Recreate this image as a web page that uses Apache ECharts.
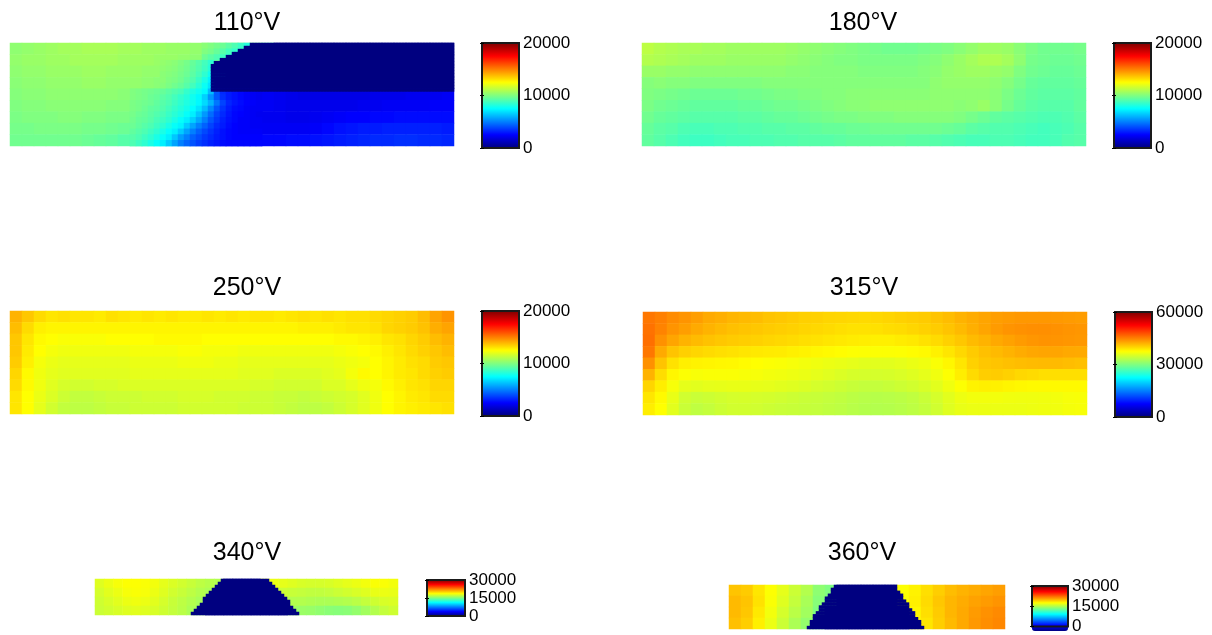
<!DOCTYPE html>
<html>
<head>
<meta charset="utf-8">
<script src="https://cdn.jsdelivr.net/npm/echarts@6/dist/echarts.min.js"></script>
<style>html,body{margin:0;padding:0;background:#fff}#c{width:1212px;height:635px}</style>
</head>
<body>
<div id="c"></div>
<script>
// All field values are in units of 100 (as read against each colour bar).
const titles = ['110°V', '180°V', '250°V', '315°V', '340°V', '360°V'];
const colorMax = [20000, 20000, 20000, 60000, 30000, 30000];
const tickStep = [10000, 10000, 10000, 30000, 15000, 15000];

const field110 = [
[103,104,105,106,107,107,108,108,108,107,107,106,106,105,105,104,103,102,101,99,96,92,0,0,0,0,0,0,0,0,0,0,0,0,0,0,0],
[104,105,105,106,106,107,107,107,107,106,106,106,105,105,104,103,102,100,97,93,0,0,0,0,0,0,0,0,0,0,0,0,0,0,0,0,0],
[103,104,104,105,105,105,106,106,105,105,105,104,104,103,102,100,94,80,0,0,0,0,0,0,0,0,0,0,0,0,0,0,0,0,0,0,0],
[102,103,103,104,104,104,105,105,104,104,104,103,102,100,98,94,84,0,0,0,0,0,0,0,0,0,0,0,0,0,0,0,0,0,0,0,0],
[101,102,102,103,103,103,103,103,103,102,102,101,99,96,92,78,62,37,30,26,24,23,22,21,20,20,20,20,20,20,21,21,21,22,22,22,23],
[100,101,101,102,102,102,102,102,101,101,100,98,95,90,82,70,52,38,30,26,24,23,22,21,21,21,21,21,21,22,22,23,23,23,23,24,24],
[99,100,100,100,101,101,100,100,99,99,97,95,91,85,74,60,44,34,28,25,23,22,22,21,21,22,23,24,25,25,26,26,27,27,27,27,27],
[98,98,99,99,99,99,98,98,97,96,94,91,87,78,64,50,38,30,26,24,23,23,23,23,23,24,26,28,29,30,30,31,31,31,31,31,30],
[97,97,97,97,97,97,96,95,94,92,90,86,79,68,54,42,32,27,25,25,25,26,26,27,27,28,29,30,31,32,33,33,34,34,33,33,32]
];
// Finer readings of the steep transition in the 110 panel: first column per row, then values.
const detailStart110 = [32,32,32,25,25,25,25,25,20,20,20,20,20,20,20,20,20,20];
const detail110 = [
[102,100,98,96,93,90,86,82],
[100,98,95,92,88,85],
[96,93,90,87,84],
[104,103,102,100,98,95,92,88,84],
[103,102,101,99,97,94,91,87,82],
[102,101,100,98,96,93,89,84,78],
[102,100,99,97,94,91,86,80,73],
[101,99,97,95,92,88,83,77,70],
[100,99,98,97,96,95,93,91,89,85,81,78,74,62,42,33,30,28,26,24,23,22],
[100,99,98,96,95,93,91,88,85,82,78,74,66,54,42,34,30,28,26,24,23,22],
[99,98,97,96,94,92,90,87,84,81,78,74,68,60,48,38,32,29,27,25,24,23],
[99,98,96,94,93,91,88,85,82,79,75,70,62,52,42,35,30,27,26,24,23,23],
[98,96,95,93,91,89,86,83,80,76,72,64,55,46,38,33,29,26,25,24,23,22],
[97,95,94,92,89,87,84,80,76,72,66,58,50,42,36,31,28,26,24,24,23,23],
[96,94,92,90,87,84,80,76,73,65,57,50,44,38,33,30,27,25,24,24,23,23],
[94,92,90,87,84,80,76,72,65,57,50,44,39,35,31,28,26,25,24,24,24,24],
[92,90,87,84,80,76,72,64,56,50,44,40,36,33,30,28,26,25,25,25,25,25],
[90,87,84,80,76,72,65,57,50,45,41,37,34,31,29,27,26,26,26,26,26,26]
];
const field180 = [
[112,110,109,108,108,107,107,106,106,106,106,106,105,104,103,102,101,100,99,98,97,97,97,98,99,100,102,104,106,106,105,102,99,97,97,97,98],
[110,109,108,107,106,106,106,105,105,105,105,105,104,103,102,101,100,100,99,99,99,99,99,100,101,103,105,107,109,109,107,103,98,97,96,96,97],
[105,105,104,104,103,103,103,103,103,103,103,103,102,102,101,101,101,101,100,100,100,100,100,101,102,104,105,106,106,105,104,100,97,96,95,95,96],
[101,102,101,101,100,100,100,100,100,100,101,101,101,101,101,101,101,101,101,101,101,101,101,101,103,104,104,104,104,103,101,98,95,94,94,94,95],
[100,99,98,97,96,96,96,96,97,97,98,99,99,100,100,101,101,102,102,102,102,102,102,102,103,103,103,103,103,102,99,96,94,93,93,93,94],
[99,97,96,95,94,94,94,94,95,95,96,97,97,98,99,100,101,102,102,103,103,103,103,103,103,103,102,103,105,102,98,95,93,92,92,92,94],
[97,95,94,93,92,92,92,92,93,93,94,95,95,96,97,98,99,99,100,100,100,101,101,101,101,101,100,98,96,94,93,92,91,90,90,91,93],
[95,93,92,90,89,89,90,90,91,91,92,92,93,93,94,95,95,96,96,97,97,97,97,97,97,96,95,93,92,91,91,90,89,88,89,90,92],
[94,92,90,88,87,87,88,89,89,90,90,91,91,92,92,92,93,94,94,94,94,94,93,93,92,91,90,89,89,90,90,89,88,88,89,91,92]
];
const field250 = [
[140,136,132,130,131,130,130,129,131,130,129,130,129,130,129,129,130,129,130,129,130,130,129,130,131,130,131,130,131,131,132,133,134,135,138,143,146],
[138,132,128,127,127,127,127,127,127,127,127,127,127,127,127,127,127,127,127,127,127,127,127,127,128,128,128,129,130,130,131,133,134,135,137,141,143],
[136,130,126,125,124,124,124,124,125,125,125,125,126,126,126,126,125,125,125,125,125,125,125,125,125,125,125,126,126,127,128,130,131,133,135,138,140],
[136,129,125,123,122,122,122,122,122,122,123,123,123,123,124,124,123,123,123,122,122,122,122,122,122,122,122,123,124,125,126,128,130,132,134,136,138],
[135,128,123,121,120,120,120,120,120,120,121,121,121,121,122,122,122,121,121,120,120,120,120,120,120,120,120,121,122,123,125,127,129,131,132,135,136],
[133,126,122,120,119,119,119,119,119,119,120,120,120,120,120,120,120,120,120,119,119,119,118,118,118,118,119,120,123,126,125,127,129,130,132,134,135],
[132,126,122,119,117,116,116,117,117,118,118,118,118,118,118,118,118,118,118,118,117,117,116,116,116,116,118,118,120,122,123,126,128,130,131,133,133],
[130,125,121,118,115,113,113,114,115,115,115,116,116,116,117,117,117,116,116,116,115,115,114,114,113,114,115,116,117,119,122,125,127,129,130,132,132],
[130,125,120,116,113,112,112,113,114,114,115,115,115,115,116,116,116,116,116,115,115,115,114,113,112,112,113,115,117,119,122,125,127,128,129,130,131]
];
const field315 = [
[455,450,443,438,432,425,422,418,416,414,410,408,406,403,402,400,399,398,397,398,400,402,404,406,410,414,420,424,428,432,434,436,436,436,435,434,433],
[458,448,438,432,425,420,416,412,410,408,406,404,402,400,398,396,394,392,392,393,395,396,399,402,405,410,416,422,428,434,438,440,441,441,440,438,437],
[460,440,428,420,415,411,408,406,404,402,400,398,396,394,392,390,388,386,385,384,384,386,388,392,396,402,408,415,420,426,430,434,437,439,438,437,436],
[455,425,410,403,399,396,394,392,390,388,387,386,384,382,380,378,376,374,373,373,373,374,376,378,383,390,398,406,412,416,420,424,427,428,428,426,425],
[440,410,392,384,382,381,380,379,377,375,373,372,370,368,366,364,362,360,358,358,358,360,363,366,372,380,390,402,408,410,412,414,415,416,416,414,412],
[420,395,380,373,371,372,372,372,371,370,368,367,365,363,360,357,354,351,350,350,351,353,356,360,366,374,385,396,404,405,402,398,396,394,394,394,394],
[400,385,370,360,358,360,361,362,362,361,360,358,356,354,350,348,345,342,340,340,342,345,348,352,358,366,374,382,384,383,381,379,378,378,378,378,378],
[390,378,362,347,343,345,348,350,351,350,349,347,345,343,342,340,338,335,333,332,333,335,338,343,350,358,365,368,368,368,367,366,366,367,368,370,371],
[385,375,358,343,337,340,345,348,348,347,345,343,342,341,340,338,336,333,331,330,331,333,336,340,347,356,362,364,364,364,364,364,365,366,367,369,370]
];
const field340 = [
[178,182,185,187,187,186,184,180,177,174,171,168,166,165,0,0,0,0,180,182,180,178,176,175,175,176,178,180,182,184,186,186,184],
[175,179,182,185,186,185,182,178,174,171,168,165,163,162,0,0,0,0,0,172,172,171,170,169,169,170,172,174,176,178,181,182,181],
[173,176,179,182,183,182,179,175,171,168,165,162,162,0,0,0,0,0,0,0,165,165,165,164,163,163,164,165,167,170,173,176,177],
[172,174,176,178,179,178,176,173,170,167,163,160,0,0,0,0,0,0,0,0,0,160,158,157,155,153,152,153,156,160,165,170,173]
];
const field360 = [
[205,203,195,187,180,172,165,154,150,0,0,0,0,0,187,191,197,202,207,210,212,214,216],
[208,205,196,186,178,170,162,152,150,0,0,0,0,0,186,192,198,204,209,212,215,217,219],
[208,204,194,184,175,167,160,150,0,0,0,0,0,0,0,190,197,203,209,213,217,220,222],
[206,202,192,182,172,163,156,150,0,0,0,0,0,0,0,190,195,202,208,213,218,221,223]
];
const fields = [field110, field180, field250, field315, field340, field360];

// Zero-value (shadowed) region, one [first, last+1] column span per fine row.
const zeroStart110 = [80,78,76,74,72,70,68,67,67,67,67,67,67,67,67,67];
const zeroEnd110   = [148,148,148,148,148,148,148,148,148,148,148,148,148,148,148,148];
const zeroStart340 = [42,41,40,39,38,37,36,36,35,34,33,32];
const zeroEnd340   = [58,59,60,61,62,63,64,65,65,66,67,68];
const zeroStart360 = [35,34,34,33,32,32,31,30,30,29,28,28,27,27,26];
const zeroEnd360   = [56,56,57,58,58,59,60,60,61,62,62,63,64,64,65];

const jet = ['#000080','#0000ff','#0080ff','#00ffff','#80ff80','#ffff00','#ff8000','#ff0000','#800000'];

// layout: [left, top, width, height] of field, then colour bar
const fieldBox = [[10,43,444,103],[642,43,444,103],[10,311,444,103],[643,312,444,103],[95,579,303,36],[729,585,276,44]];
const barBox   = [[482,43,37,105],[1114,43,37,105],[482,311,37,105],[1115,312,37,105],[427,580,38,36],[1032,586,36,45]];
const titleX   = [247,863,247,864,247,862];
const titleY   = [11,11,276,276,541,541];
const zeroGrids = [
  {panel:0, cols:148, rows:34, start:zeroStart110, end:zeroEnd110},
  {panel:4, cols:101, rows:12, start:zeroStart340, end:zeroEnd340},
  {panel:5, cols:92,  rows:15, start:zeroStart360, end:zeroEnd360}
];

const idx = n => Array.from({length:n}, (_, i) => i);
const hiddenCat = n => ({type:'category', data:idx(n), show:false});
const font = 'Liberation Sans, Arial, sans-serif';

const grid = [], xAxis = [], yAxis = [], series = [], visualMap = [], title = [];
const seriesOf = fields.map(() => []);

function addOverlay(panel, cols, rows, data) {
  const b = fieldBox[panel], k = grid.length;
  grid.push({left:b[0], top:b[1], width:b[2], height:b[3]});
  xAxis.push({gridIndex:k, ...hiddenCat(cols)});
  yAxis.push({gridIndex:k, ...hiddenCat(rows), inverse:true});
  seriesOf[panel].push(series.length);
  series.push({type:'heatmap', xAxisIndex:xAxis.length-1, yAxisIndex:yAxis.length-1, silent:true, progressive:0, data});
}

fields.forEach((rows, i) => {
  const b = fieldBox[i];
  grid.push({left:b[0], top:b[1], width:b[2], height:b[3]});
  xAxis.push({gridIndex:i, ...hiddenCat(rows[0].length)});
  yAxis.push({gridIndex:i, ...hiddenCat(rows.length), inverse:true});
  seriesOf[i].push(series.length);
  series.push({type:'heatmap', xAxisIndex:i, yAxisIndex:i, silent:true, progressive:0,
    data: rows.flatMap((row, r) => row.map((v, c) => [c, r, v * 100]))});
  title.push({text:titles[i], left:titleX[i], top:titleY[i], textAlign:'center',
    padding:0, textStyle:{fontFamily:font, fontSize:25, fontWeight:'normal', color:'#000'}});
});

addOverlay(0, 74, 18, detail110.flatMap((row, r) => row.map((v, d) => [detailStart110[r] + d, r, v * 100])));

zeroGrids.forEach(z => {
  addOverlay(z.panel, z.cols, z.rows,
    z.start.flatMap((s, r) => idx(z.end[r] - s).map(d => [s + d, r, 0])));
});

fields.forEach((rows, i) => {
  const b = barBox[i], k = grid.length;
  visualMap.push({type:'continuous', min:0, max:colorMax[i], seriesIndex:seriesOf[i],
    show:true, calculable:false, hoverLink:false, orient:'vertical', padding:0,
    left:b[0], top:b[1], itemWidth:b[2], itemHeight:b[3], inRange:{color:jet}});
  grid.push({left:b[0], top:b[1], width:b[2], height:b[3], show:true, z:6,
    backgroundColor:'transparent', borderColor:'#1a1a1a', borderWidth:2});
  xAxis.push({gridIndex:k, type:'value', min:0, max:1, show:false});
  const ya = {gridIndex:k, type:'value', min:0, max:colorMax[i], interval:tickStep[i], z:7, splitLine:{show:false},
    axisLine:{show:false}, axisTick:{show:true, inside:true, length:2, lineStyle:{color:'#000'}}};
  yAxis.push({...ya, position:'right',
    axisLabel:{show:true, margin:4, padding:[3,0,0,0], fontFamily:font, fontSize:17, color:'#000', formatter:v => String(v)}});
  yAxis.push({...ya, position:'left', axisLabel:{show:false}});
});

const chart = echarts.init(document.getElementById('c'), null, {renderer:'canvas'});
chart.setOption({animation:false, backgroundColor:'#fff', title, grid, xAxis, yAxis, visualMap, series});
</script>
</body>
</html>
